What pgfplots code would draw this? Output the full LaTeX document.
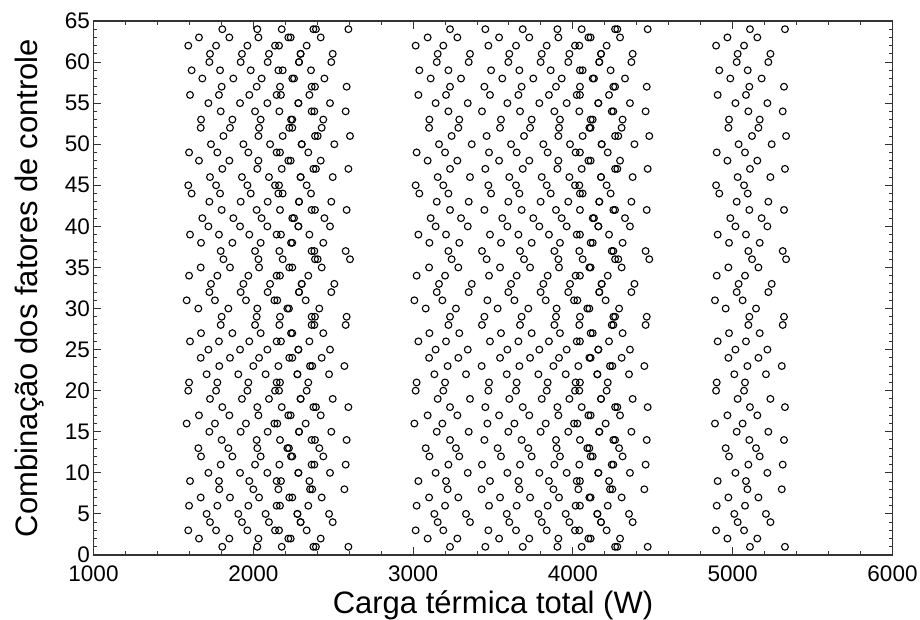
\documentclass[border=0pt]{standalone}
\usepackage{fontspec}
\setmainfont{Liberation Sans}
\usepackage{pgfplots}
\pgfplotsset{compat=1.18}
\usepackage{pgfplotstable}

% carga termica (W) por combinacao: 6 pontos no grupo 1, 8 no grupo 2, 2 no grupo 3
\pgfplotstableread{
y c1 c2 c3 c4 c5 c6 c7 c8 c9 c10 c11 c12 c13 c14 c15 c16
1 1806 2025 2178 2376 2392 2595 3231 3452 3686 3903 4055 4264 4278 4468 5108 5327
2 1660 1850 2032 2219 2234 2422 3091 3277 3538 3727 3909 4097 4111 4295 4967 5154
3 1593 1767 1963 2136 2161 2334 3016 3189 3471 3644 3836 4013 4040 4211 4896 5071
4 1729 1929 2098 2296 2296 2497 3154 3356 3602 3805 3978 4176 4176 4374 5031 5236
5 1708 1906 2077 2276 2276 2474 3133 3331 3586 3784 3955 4153 4153 4351 5010 5208
6 1598 1775 1969 2146 2167 2344 3022 3200 3475 3648 3842 4017 4044 4218 4900 5077
7 1671 1854 2036 2225 2244 2428 3100 3283 3544 3732 3913 4103 4111 4305 4973 5161
8 1787 2000 2157 2355 2369 2570 3216 3429 3665 3878 4034 4232 4247 4447 5092 5307
9 1604 1785 1975 2146 2173 2351 3033 3206 3481 3659 3850 4024 4044 4226 4906 5083
10 1719 1917 2088 2282 2282 2480 3141 3342 3590 3790 3961 4159 4159 4357 5017 5217
11 1796 2011 2163 2365 2382 2578 3221 3431 3669 3884 4040 4243 4253 4455 5098 5313
12 1673 1869 2046 2236 2244 2438 3102 3289 3550 3742 3919 4111 4124 4311 4977 5169
13 1656 1844 2025 2213 2223 2413 3079 3268 3529 3721 3898 4090 4103 4289 4956 5146
14 1802 2021 2167 2365 2386 2584 3231 3446 3679 3894 4044 4253 4264 4462 5104 5321
15 1725 1921 2090 2286 2286 2488 3148 3348 3596 3798 3971 4165 4165 4366 5025 5223
16 1583 1760 1954 2132 2150 2328 3008 3183 3465 3634 3830 4007 4028 4205 4889 5062
17 1660 1850 2032 2219 2234 2422 3091 3277 3538 3727 3909 4097 4111 4295 4967 5154
18 1806 2025 2178 2376 2392 2595 3231 3452 3686 3903 4055 4264 4278 4468 5108 5327
19 1729 1929 2098 2296 2296 2497 3154 3356 3602 3805 3978 4176 4176 4374 5031 5236
20 1593 1767 1963 2136 2161 2334 3016 3189 3471 3644 3836 4013 4040 4211 4896 5071
21 1598 1775 1969 2146 2167 2344 3022 3200 3475 3648 3842 4017 4044 4218 4900 5077
22 1708 1906 2077 2276 2276 2474 3133 3331 3586 3784 3955 4153 4153 4351 5010 5208
23 1787 2000 2157 2355 2369 2570 3216 3429 3665 3878 4034 4232 4247 4447 5092 5307
24 1671 1854 2036 2225 2244 2428 3100 3283 3544 3732 3913 4103 4111 4305 4973 5161
25 1719 1917 2088 2282 2282 2480 3141 3342 3590 3790 3961 4159 4159 4357 5017 5217
26 1604 1785 1975 2146 2173 2351 3033 3206 3481 3659 3850 4024 4044 4226 4906 5083
27 1673 1869 2046 2236 2244 2438 3102 3289 3550 3742 3919 4111 4124 4311 4977 5169
28 1796 2011 2163 2365 2382 2578 3221 3431 3669 3884 4040 4243 4253 4455 5098 5313
29 1802 2021 2167 2365 2386 2584 3231 3446 3679 3894 4044 4253 4264 4462 5104 5321
30 1656 1844 2025 2213 2223 2413 3079 3268 3529 3721 3898 4090 4103 4289 4956 5146
31 1583 1760 1954 2132 2150 2328 3008 3183 3465 3634 3830 4007 4028 4205 4889 5062
32 1725 1921 2090 2286 2286 2488 3148 3348 3596 3798 3971 4165 4165 4366 5025 5223
33 1735 1938 2105 2303 2303 2507 3162 3367 3613 3815 3982 4180 4180 4385 5037 5244
34 1598 1775 1969 2146 2167 2344 3022 3200 3475 3648 3842 4017 4044 4218 4900 5077
35 1671 1854 2036 2225 2244 2428 3100 3283 3544 3732 3913 4103 4111 4305 4973 5161
36 1813 2032 2184 2386 2403 2605 3241 3460 3694 3909 4061 4264 4284 4478 5121 5334
37 1796 2011 2163 2365 2382 2578 3221 3431 3669 3884 4040 4243 4253 4455 5098 5313
38 1673 1869 2046 2236 2244 2438 3102 3289 3550 3742 3919 4111 4124 4311 4977 5169
39 1604 1785 1975 2146 2173 2351 3033 3206 3481 3659 3850 4024 4044 4226 4906 5083
40 1719 1917 2088 2282 2282 2480 3141 3342 3590 3790 3961 4159 4159 4357 5017 5217
41 1681 1875 2052 2244 2255 2445 3110 3300 3558 3752 3930 4124 4132 4326 4985 5181
42 1802 2021 2167 2365 2386 2584 3231 3446 3679 3894 4044 4253 4264 4462 5104 5321
43 1725 1921 2090 2286 2286 2488 3148 3348 3596 3798 3971 4165 4165 4366 5025 5223
44 1614 1792 1984 2157 2184 2361 3039 3221 3488 3665 3861 4044 4061 4236 4916 5094
45 1593 1767 1963 2136 2161 2334 3016 3189 3471 3644 3836 4013 4040 4211 4896 5071
46 1729 1929 2098 2296 2296 2497 3154 3356 3602 3805 3978 4176 4176 4374 5031 5236
47 1806 2025 2178 2376 2392 2595 3231 3452 3686 3903 4055 4264 4278 4468 5108 5327
48 1660 1850 2032 2219 2234 2422 3091 3277 3538 3727 3909 4097 4111 4295 4967 5154
49 1598 1775 1969 2146 2167 2344 3022 3200 3475 3648 3842 4017 4044 4218 4900 5077
50 1735 1938 2105 2303 2303 2507 3162 3367 3613 3815 3982 4180 4180 4385 5037 5244
51 1813 2032 2184 2386 2403 2605 3241 3460 3694 3909 4061 4264 4284 4478 5121 5334
52 1671 1854 2036 2225 2244 2428 3100 3283 3544 3732 3913 4103 4111 4305 4973 5161
53 1673 1869 2046 2236 2244 2438 3102 3289 3550 3742 3919 4111 4124 4311 4977 5169
54 1796 2011 2163 2365 2382 2578 3221 3431 3669 3884 4040 4243 4253 4455 5098 5313
55 1719 1917 2088 2282 2282 2480 3141 3342 3590 3790 3961 4159 4159 4357 5017 5217
56 1604 1785 1975 2146 2173 2351 3033 3206 3481 3659 3850 4024 4044 4226 4906 5083
57 1802 2021 2167 2365 2386 2584 3231 3446 3679 3894 4044 4253 4264 4462 5104 5321
58 1681 1875 2052 2244 2255 2445 3110 3300 3558 3752 3930 4124 4132 4326 4985 5181
59 1614 1792 1984 2157 2184 2361 3039 3221 3488 3665 3861 4044 4061 4236 4916 5094
60 1725 1921 2090 2286 2286 2488 3148 3348 3596 3798 3971 4165 4165 4366 5025 5223
61 1729 1929 2098 2296 2296 2497 3154 3356 3602 3805 3978 4176 4176 4374 5031 5236
62 1593 1767 1963 2136 2161 2334 3016 3189 3471 3644 3836 4013 4040 4211 4896 5071
63 1660 1850 2032 2219 2234 2422 3091 3277 3538 3727 3909 4097 4111 4295 4967 5154
64 1806 2025 2178 2376 2392 2595 3231 3452 3686 3903 4055 4264 4278 4468 5108 5327
}\pts

\begin{document}
\begin{tikzpicture}
\begin{axis}[
  name=ax,
  width=799pt, height=534pt, scale only axis,
  xmin=1000, xmax=6000, ymin=0, ymax=65,
  xtick={1000,2000,...,6000}, minor x tick num=4,
  ytick={0,5,...,65}, minor y tick num=4,
  tick align=inside,
  major tick length=8pt, minor tick length=4pt,
  axis line style={line width=1.4pt, black!80},
  every tick/.style={line width=1pt, black!80},
  /pgf/number format/assume math mode=true,
  /pgf/number format/set thousands separator={},
  tick label style={font=\fontsize{22.5}{27}\selectfont},
  xticklabel style={yshift=-7pt},
  label style={font=\fontsize{31}{36}\selectfont},
  xlabel={Carga térmica total (W)},
  ylabel={Combinação dos fatores de controle},
  xlabel style={at={(axis description cs:0.5,-0.094)}, anchor=center},
  ylabel style={at={(axis description cs:-0.08,0.5)}, anchor=center},
  pt/.style={black, only marks, mark=o, mark size=3.4pt, mark options={solid, line width=1.1pt}},
]
\addplot[pt] table[x=c1,y=y]{\pts};
\addplot[pt] table[x=c2,y=y]{\pts};
\addplot[pt] table[x=c3,y=y]{\pts};
\addplot[pt] table[x=c4,y=y]{\pts};
\addplot[pt] table[x=c5,y=y]{\pts};
\addplot[pt] table[x=c6,y=y]{\pts};
\addplot[pt] table[x=c7,y=y]{\pts};
\addplot[pt] table[x=c8,y=y]{\pts};
\addplot[pt] table[x=c9,y=y]{\pts};
\addplot[pt] table[x=c10,y=y]{\pts};
\addplot[pt] table[x=c11,y=y]{\pts};
\addplot[pt] table[x=c12,y=y]{\pts};
\addplot[pt] table[x=c13,y=y]{\pts};
\addplot[pt] table[x=c14,y=y]{\pts};
\addplot[pt] table[x=c15,y=y]{\pts};
\addplot[pt] table[x=c16,y=y]{\pts};
\end{axis}
\pgfresetboundingbox
\path[use as bounding box] ([shift={(-93.5pt,-64.7pt)}]ax.south west) rectangle ([shift={(27.5pt,21pt)}]ax.north east);
\end{tikzpicture}
\end{document}
